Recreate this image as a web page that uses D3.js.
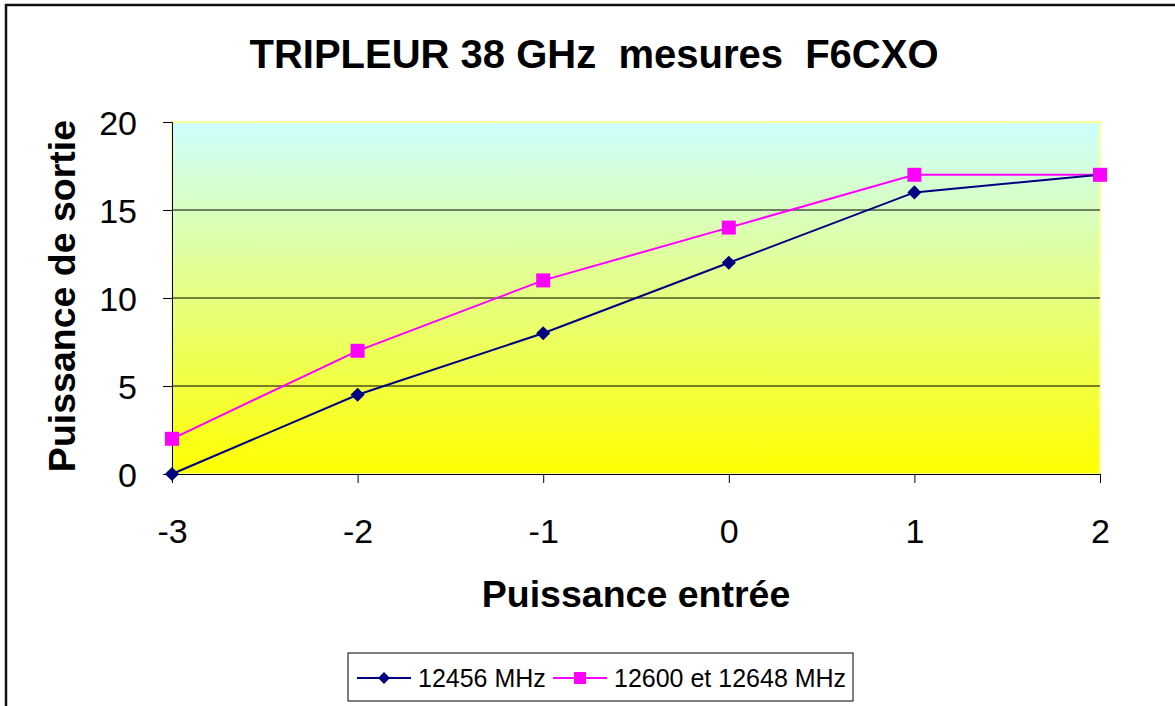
<!DOCTYPE html>
<html><head><meta charset="utf-8">
<script src="https://cdn.jsdelivr.net/npm/d3@7"></script>
<style>body{margin:0;background:#fff}svg{display:block}text{font-family:"Liberation Sans",Arial,sans-serif}</style>
</head><body>
<svg id="c" width="1175" height="706"></svg>
<script>
const xValues = [-3, -2, -1, 0, 1, 2];
const series1Name = "12456 MHz";
const series1 = [0, 4.5, 8, 12, 16, 17];
const series2Name = "12600 et 12648 MHz";
const series2 = [2, 7, 11, 14, 17, 17];
const yTicks = [0, 5, 10, 15, 20];
const title = "TRIPLEUR 38 GHz  mesures  F6CXO";
const xTitle = "Puissance entrée";
const yTitle = "Puissance de sortie";

const svg = d3.select("#c");
const L = 172, R = 1100, T = 122, B = 474;
const x = d3.scaleLinear().domain([-3, 2]).range([L, R]);
const y = d3.scaleLinear().domain([0, 20]).range([B, T]);

// outer frame
svg.append("rect").attr("x", 6).attr("y", 5).attr("width", 1200).attr("height", 750)
  .attr("fill", "#fff").attr("stroke", "#111").attr("stroke-width", 2.5);

// gradient
const defs = svg.append("defs");
const g = defs.append("linearGradient").attr("id", "bg").attr("x1", 0).attr("y1", 0).attr("x2", 0).attr("y2", 1);
g.append("stop").attr("offset", "0%").attr("stop-color", "#ccffff");
g.append("stop").attr("offset", "100%").attr("stop-color", "#ffff00");
svg.append("rect").attr("x", L).attr("y", T).attr("width", R - L).attr("height", B - T)
  .attr("fill", "url(#bg)").attr("stroke", "#ffff99").attr("stroke-width", 2);

// gridlines
svg.append("g").selectAll("line").data(yTicks.filter(d => d > 0 && d < 20)).join("line")
  .attr("x1", L).attr("x2", R).attr("y1", d => y(d)).attr("y2", d => y(d))
  .attr("stroke", "#000").attr("stroke-width", 1);

// axes
const yAxis = d3.axisLeft(y).tickValues(yTicks).tickSize(9).tickPadding(26);
const ya = svg.append("g").attr("transform", `translate(${L},0)`).call(yAxis);
ya.select(".domain").attr("stroke", "#000");
ya.selectAll("text").attr("font-size", 34).attr("fill", "#000").attr("dy", "0.36em");

const xAxis = d3.axisBottom(x).tickValues(xValues).tickSize(9).tickPadding(26).tickFormat(d3.format("d"));
const xa = svg.append("g").attr("transform", `translate(0,${B})`).call(xAxis);
xa.select(".domain").attr("stroke", "#000");
xa.selectAll("text").attr("font-size", 34).attr("fill", "#000").attr("dy", "1.0em").text(d => d < 0 ? "-" + Math.abs(d) : d);

// lines
const line = d3.line().x((d, i) => x(xValues[i])).y(d => y(d));
svg.append("path").datum(series2).attr("d", line).attr("fill", "none").attr("stroke", "#ff00ff").attr("stroke-width", 2);
svg.append("path").datum(series1).attr("d", line).attr("fill", "none").attr("stroke", "#000080").attr("stroke-width", 2);

svg.append("g").selectAll("path").data(series1).join("path")
  .attr("d", d3.symbol().type(d3.symbolSquare).size(100))
  .attr("transform", (d, i) => `translate(${x(xValues[i])},${y(d)}) rotate(45)`)
  .attr("fill", "#000080");
svg.append("g").selectAll("rect").data(series2).join("rect")
  .attr("x", (d, i) => x(xValues[i]) - 7).attr("y", d => y(d) - 7).attr("width", 14).attr("height", 14)
  .attr("fill", "#ff00ff");

// titles
svg.append("text").attr("x", 594).attr("y", 68).attr("text-anchor", "middle")
  .style("white-space", "pre")
  .attr("font-size", 40).attr("font-weight", "bold").text(title);
svg.append("text").attr("x", 636).attr("y", 607).attr("text-anchor", "middle")
  .attr("font-size", 37.5).attr("font-weight", "bold").text(xTitle);
svg.append("text").attr("transform", "translate(75,296) rotate(-90)").attr("text-anchor", "middle")
  .attr("font-size", 37.5).attr("font-weight", "bold").text(yTitle);

// legend
const lg = svg.append("g");
lg.append("rect").attr("x", 348).attr("y", 653).attr("width", 505).attr("height", 48)
  .attr("fill", "#fff").attr("stroke", "#000").attr("stroke-width", 1);
const items = [{name: series1Name, color: "#000080", type: "d", x0: 357, tx: 418},
               {name: series2Name, color: "#ff00ff", type: "s", x0: 553, tx: 614}];
items.forEach(it => {
  lg.append("line").attr("x1", it.x0).attr("x2", it.x0 + 54).attr("y1", 678).attr("y2", 678)
    .attr("stroke", it.color).attr("stroke-width", 2);
  if (it.type === "d") {
    lg.append("path").attr("d", d3.symbol().type(d3.symbolSquare).size(70)())
      .attr("transform", `translate(${it.x0 + 27},678) rotate(45)`).attr("fill", it.color);
  } else {
    lg.append("rect").attr("x", it.x0 + 21).attr("y", 672).attr("width", 12).attr("height", 12).attr("fill", it.color);
  }
  lg.append("text").attr("x", it.tx).attr("y", 687).attr("font-size", 25).text(it.name);
});
</script>
</body></html>
